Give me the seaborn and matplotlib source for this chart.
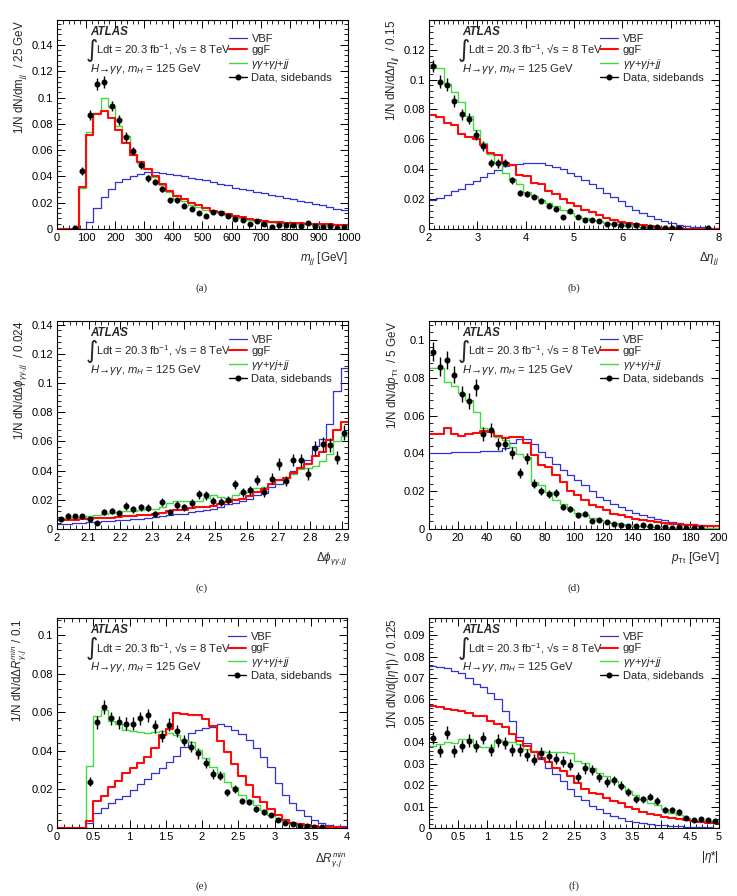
import numpy as np
import pandas as pd
import matplotlib
matplotlib.use("Agg")
import matplotlib.pyplot as plt
import seaborn as sns
from matplotlib.ticker import MultipleLocator, AutoMinorLocator, FormatStrFormatter
from matplotlib.lines import Line2D

nan = np.nan

# ---------------- (a) m_jj ----------------
a_range = (0.0, 1000.0)
a_vbf = [0, 0, 0, 0, 0.005, 0.0163, 0.0245, 0.0306, 0.0357, 0.0382,
         0.0403, 0.0415, 0.0433, 0.0436, 0.0428, 0.042, 0.041, 0.040, 0.039, 0.038,
         0.037, 0.0357, 0.0344, 0.0333, 0.0315, 0.0305, 0.0295, 0.0285, 0.0272, 0.026,
         0.025, 0.0238, 0.0226, 0.0215, 0.0204, 0.0193, 0.0182, 0.0168, 0.0155, 0.0142]
a_ggf = [0, 0, 0, 0.0318, 0.0713, 0.0874, 0.0897, 0.0848, 0.0754, 0.0652,
         0.056, 0.0512, 0.0459, 0.0403, 0.0339, 0.0288, 0.025, 0.023, 0.0196, 0.018,
         0.016, 0.0135, 0.013, 0.0117, 0.0099, 0.0094, 0.0076, 0.0069, 0.006, 0.0056,
         0.005, 0.0048, 0.0046, 0.0043, 0.004, 0.0038, 0.0036, 0.0038, 0.0033, 0.0033]
a_bkg = [0, 0, 0.0005, 0.031, 0.074, 0.088, 0.0996, 0.0925, 0.0785, 0.0708,
         0.0568, 0.0504, 0.0454, 0.0397, 0.0334, 0.028, 0.023, 0.021, 0.0186, 0.0166,
         0.0148, 0.013, 0.0122, 0.011, 0.0092, 0.0084, 0.007, 0.0064, 0.0056, 0.005,
         0.0046, 0.0043, 0.004, 0.0038, 0.0035, 0.0033, 0.003, 0.003, 0.0028, 0.0028]
a_data = [nan, nan, 0.0005, 0.0438, 0.0869, 0.110, 0.1116, 0.0937, 0.083, 0.070,
          0.0594, 0.049, 0.0387, 0.0357, 0.0306, 0.0217, 0.0219, 0.0178, 0.0155, 0.0122,
          0.0099, 0.013, 0.0122, 0.0097, 0.0076, 0.0069, 0.0036, 0.006, 0.0036, 0.0013,
          0.0033, 0.003, 0.0028, 0.002, 0.0046, 0.002, 0.0018, 0.0025, 0.001, 0.0015]
a_err = [nan, nan, 0.0005, 0.003, 0.004, 0.0045, 0.0045, 0.004, 0.0038, 0.0035,
         0.0032, 0.003, 0.0027, 0.0025, 0.0023, 0.002, 0.002, 0.0018, 0.0017, 0.0015,
         0.0013, 0.0015, 0.0014, 0.0013, 0.0012, 0.0011, 0.0008, 0.001, 0.0008, 0.0005,
         0.0008, 0.0007, 0.0007, 0.0006, 0.0009, 0.0006, 0.0006, 0.0007, 0.0004, 0.0005]

# ---------------- (b) delta eta_jj ----------------
b_range = (2.0, 8.0)
b_vbf = [0.0197, 0.0206, 0.023, 0.0253, 0.0269, 0.0298, 0.0318, 0.0347, 0.0372, 0.0394,
         0.0421, 0.0428, 0.0435, 0.0439, 0.0443, 0.0439, 0.0428, 0.0414, 0.0399, 0.0376,
         0.0354, 0.0329, 0.0298, 0.0271, 0.0242, 0.0215, 0.0186, 0.0157, 0.013, 0.0108,
         0.0085, 0.0067, 0.0052, 0.0038, 0.0029, 0.0022, 0.0016, 0.0011, 0.0007, 0.0004]
b_ggf = [0.0762, 0.075, 0.0708, 0.0697, 0.0634, 0.0618, 0.060, 0.0562, 0.0506, 0.0497,
         0.0443, 0.0428, 0.0361, 0.0354, 0.0309, 0.0298, 0.0253, 0.0237, 0.0202, 0.0175,
         0.0152, 0.013, 0.0114, 0.0096, 0.0074, 0.0063, 0.0047, 0.004, 0.0031, 0.0025,
         0.0018, 0.0013, 0.0009, 0.0007, 0.0004, 0.0003, 0.0002, 0.0001, 0.0001, 0.0001]
b_bkg = [0.110, 0.1075, 0.097, 0.0918, 0.0847, 0.0753, 0.0663, 0.0578, 0.050, 0.0443,
         0.0376, 0.0336, 0.0298, 0.0246, 0.0224, 0.0197, 0.0175, 0.0152, 0.0125, 0.0108,
         0.009, 0.0074, 0.0063, 0.0052, 0.004, 0.0034, 0.0027, 0.0022, 0.0018, 0.0013,
         0.0011, 0.0009, 0.0007, 0.0005, 0.0004, 0.0003, 0.0002, 0.0002, 0.0001, 0.0001]
b_data = [0.109, 0.0985, 0.0965, 0.0858, 0.0766, 0.0739, 0.0627, 0.0555, 0.0443, 0.0439,
          0.0443, 0.0327, 0.0242, 0.0235, 0.0217, 0.019, 0.0157, 0.0137, 0.0083, 0.0119,
          0.0081, 0.006, 0.0063, 0.0052, 0.0036, 0.0034, 0.0029, 0.0027, 0.0025, 0.0007,
          0.0013, 0.0011, 0.0009, 0.0004, 0.0004, nan, nan, nan, 0.0004, nan]
b_err = [0.004, 0.0045, 0.0045, 0.004, 0.0038, 0.0036, 0.0034, 0.0031, 0.0028, 0.0028,
         0.0028, 0.0024, 0.002, 0.002, 0.0019, 0.0018, 0.0016, 0.0015, 0.0012, 0.0014,
         0.0012, 0.001, 0.001, 0.0009, 0.0008, 0.0008, 0.0007, 0.0007, 0.0007, 0.0004,
         0.0005, 0.0005, 0.0004, 0.0003, 0.0003, nan, nan, nan, 0.0003, nan]

# ---------------- (c) delta phi_gg,jj ----------------
c_range = (2.0, 2.92)
c_vbf = [0.0034, 0.0036, 0.0041, 0.0043, 0.0046, 0.005, 0.0052, 0.0057, 0.0059, 0.0064,
         0.0066, 0.0071, 0.0075, 0.008, 0.0087, 0.0093, 0.0103, 0.0105, 0.0114, 0.0121,
         0.0132, 0.0139, 0.015, 0.0169, 0.0178, 0.0189, 0.0207, 0.023, 0.0246, 0.0287,
         0.031, 0.035, 0.040, 0.042, 0.047, 0.057, 0.062, 0.072, 0.0948, 0.110]
c_ggf = [0.0059, 0.0062, 0.0065, 0.0068, 0.007, 0.0073, 0.0076, 0.0078, 0.0082, 0.0086,
         0.009, 0.0094, 0.0098, 0.0104, 0.0112, 0.012, 0.0127, 0.0133, 0.0141, 0.0148,
         0.0153, 0.016, 0.0172, 0.0185, 0.0196, 0.0208, 0.0225, 0.0255, 0.0275, 0.031,
         0.0335, 0.0352, 0.0385, 0.042, 0.0445, 0.050, 0.0525, 0.061, 0.068, 0.0736]
c_bkg = [0.007, 0.0078, 0.008, 0.0085, 0.009, 0.0095, 0.0105, 0.011, 0.0115, 0.012,
         0.0125, 0.013, 0.0135, 0.0138, 0.015, 0.0175, 0.019, 0.0195, 0.0195, 0.019,
         0.021, 0.0235, 0.022, 0.021, 0.023, 0.025, 0.0255, 0.028, 0.029, 0.031,
         0.0335, 0.035, 0.038, 0.041, 0.042, 0.0435, 0.0465, 0.0515, 0.0605, 0.0635]
c_data = [0.0066, 0.0089, 0.0087, 0.0087, 0.0068, 0.0043, 0.0119, 0.0125, 0.0112, 0.0157,
          0.0135, 0.015, 0.0146, 0.0105, 0.0185, 0.0114, 0.0164, 0.015, 0.0178, 0.0237,
          0.023, 0.0192, 0.0185, 0.02, 0.0305, 0.0253, 0.0264, 0.0337, 0.0253, 0.0344,
          0.0447, 0.0328, 0.0474, 0.047, 0.0378, 0.0556, 0.0584, 0.0577, 0.0488, 0.0661]
c_err = [0.0015, 0.0018, 0.0018, 0.0018, 0.0016, 0.0013, 0.002, 0.0022, 0.002, 0.0025,
         0.0022, 0.0024, 0.0024, 0.002, 0.0026, 0.0021, 0.0025, 0.0024, 0.0027, 0.003,
         0.003, 0.0027, 0.0027, 0.0028, 0.0034, 0.0031, 0.0032, 0.0036, 0.0032, 0.0037,
         0.0042, 0.0036, 0.0043, 0.0043, 0.004, 0.0047, 0.0048, 0.0048, 0.0045, 0.0052]

# ---------------- (d) p_Tt ----------------
d_range = (0.0, 200.0)
d_vbf = [0.0403, 0.0403, 0.0403, 0.0405, 0.0405, 0.0407, 0.0408, 0.041, 0.041, 0.0412,
         0.0426, 0.0456, 0.0474, 0.0474, 0.0449, 0.0408, 0.038, 0.0346, 0.031, 0.0284,
         0.0258, 0.0231, 0.0201, 0.017, 0.0152, 0.0131, 0.0117, 0.0099, 0.0087, 0.0076,
         0.0064, 0.0055, 0.0046, 0.0039, 0.0032, 0.0028, 0.0025, 0.0021, 0.0018, 0.0016]
d_ggf = [0.0502, 0.0502, 0.0535, 0.0505, 0.0493, 0.050, 0.0509, 0.0518, 0.0514, 0.0493,
         0.0479, 0.0488, 0.0488, 0.0456, 0.039, 0.0338, 0.0329, 0.0284, 0.0249, 0.0201,
         0.0178, 0.0152, 0.0125, 0.0117, 0.0099, 0.0081, 0.0072, 0.0064, 0.0055, 0.0046,
         0.0041, 0.0035, 0.003, 0.0028, 0.0025, 0.0021, 0.0019, 0.0018, 0.0016, 0.0014]
d_bkg = [0.085, 0.085, 0.0779, 0.0756, 0.0717, 0.0682, 0.062, 0.0532, 0.052, 0.0488,
         0.047, 0.0435, 0.0399, 0.0382, 0.0249, 0.0231, 0.0196, 0.0155, 0.0134, 0.0108,
         0.0087, 0.0072, 0.0058, 0.0046, 0.0037, 0.0032, 0.0025, 0.0021, 0.0018, 0.0016,
         0.0012, 0.0011, 0.0009, 0.0007, 0.0005, 0.0004, 0.0004, 0.0004, 0.0004, 0.0004]
d_data = [0.0938, 0.0859, 0.0894, 0.0815, 0.0712, 0.0677, 0.0749, 0.0502, 0.0523, 0.0449,
          0.0449, 0.0403, 0.0297, 0.0373, 0.024, 0.02, 0.0187, 0.0191, 0.0117, 0.0108,
          0.0072, 0.0081, 0.0044, 0.0049, 0.0037, 0.0028, 0.0019, 0.0018, 0.0016, 0.0021,
          0.0014, 0.0011, 0.0009, 0.0007, 0.0009, 0.0007, 0.0005, 0.0007, nan, nan]
d_err = [0.005, 0.0048, 0.0048, 0.0045, 0.0042, 0.004, 0.0043, 0.0035, 0.0036, 0.0033,
         0.0033, 0.0031, 0.0027, 0.003, 0.0024, 0.0022, 0.0021, 0.0021, 0.0017, 0.0016,
         0.0013, 0.0014, 0.001, 0.0011, 0.0009, 0.0008, 0.0007, 0.0007, 0.0006, 0.0007,
         0.0006, 0.0005, 0.0005, 0.0004, 0.0005, 0.0004, 0.0004, 0.0004, nan, nan]

# ---------------- (e) delta R min ----------------
e_range = (0.0, 4.0)
e_vbf = [0, 0, 0, 0, 0.0028, 0.0076, 0.0102, 0.0128, 0.0149, 0.0168,
         0.0197, 0.0227, 0.0253, 0.0284, 0.031, 0.0341, 0.0375, 0.0422, 0.0491, 0.0509,
         0.0517, 0.0522, 0.054, 0.0529, 0.0509, 0.0486, 0.0457, 0.0413, 0.037, 0.0318,
         0.0235, 0.0171, 0.0128, 0.0093, 0.0062, 0.0042, 0.0028, 0.0017, 0.0012, 0.0009]
e_ggf = [0, 0, 0, 0, 0.0035, 0.014, 0.0166, 0.0215, 0.0244, 0.0287,
         0.031, 0.0336, 0.037, 0.0413, 0.0483, 0.0512, 0.0595, 0.0592, 0.0586, 0.0586,
         0.0564, 0.0526, 0.0453, 0.0396, 0.0332, 0.027, 0.0223, 0.0163, 0.0133, 0.0097,
         0.0067, 0.0042, 0.0028, 0.0019, 0.0014, 0.0009, 0.0007, 0.0005, 0.0003, 0.0002]
e_bkg = [0, 0, 0, 0, 0.0322, 0.0581, 0.0609, 0.0552, 0.054, 0.0509,
         0.0503, 0.0495, 0.0491, 0.0495, 0.0505, 0.0491, 0.0483, 0.0457, 0.0443, 0.0405,
         0.0362, 0.0315, 0.0284, 0.024, 0.0215, 0.0171, 0.0145, 0.0119, 0.0093, 0.0067,
         0.005, 0.0033, 0.0021, 0.0014, 0.0009, 0.0005, 0.0003, 0.0002, 0.0002, 0.0002]
e_data = [nan, nan, nan, nan, 0.024, 0.0548, 0.0626, 0.0569, 0.0547, 0.054,
          0.054, 0.0569, 0.0583, 0.0526, 0.0477, 0.0535, 0.0503, 0.0453, 0.0422, 0.0388,
          0.0339, 0.028, 0.027, 0.0185, 0.0201, 0.014, 0.0135, 0.0099, 0.0081, 0.0067,
          0.004, 0.0028, 0.0021, 0.001, 0.001, 0.0007, 0.0007, nan, nan, nan]
e_err = [nan, nan, nan, nan, 0.0022, 0.0034, 0.0036, 0.0034, 0.0033, 0.0033,
         0.0033, 0.0034, 0.0035, 0.0033, 0.0031, 0.0033, 0.0032, 0.003, 0.0029, 0.0028,
         0.0026, 0.0024, 0.0023, 0.0019, 0.002, 0.0017, 0.0016, 0.0014, 0.0013, 0.0012,
         0.0009, 0.0008, 0.0006, 0.0004, 0.0004, 0.0004, 0.0004, nan, nan, nan]

# ---------------- (f) |eta*| ----------------
f_range = (0.0, 5.0)
f_vbf = [0.0758, 0.0753, 0.0749, 0.0735, 0.0724, 0.0699, 0.0672, 0.0657, 0.0629, 0.0602,
         0.0548, 0.0501, 0.0423, 0.0396, 0.0353, 0.0321, 0.0282, 0.0251, 0.022, 0.0181,
         0.015, 0.0129, 0.0103, 0.0087, 0.0072, 0.0056, 0.0045, 0.0034, 0.003, 0.0025,
         0.002, 0.0016, 0.0012, 0.0009, 0.0008, 0.0006, 0.0005, 0.0003, 0.0003, 0.0002]
f_ggf = [0.0571, 0.0563, 0.0555, 0.0552, 0.0548, 0.0537, 0.0521, 0.0521, 0.0501, 0.0485,
         0.047, 0.0438, 0.0407, 0.0384, 0.0356, 0.0329, 0.0306, 0.0282, 0.0267, 0.0243,
         0.0212, 0.0181, 0.0165, 0.0161, 0.0142, 0.0126, 0.0115, 0.01, 0.0087, 0.0076,
         0.0067, 0.0059, 0.0053, 0.0047, 0.0041, 0.0036, 0.0033, 0.0028, 0.0025, 0.0022]
f_bkg = [0.0384, 0.0392, 0.04, 0.0395, 0.0415, 0.0415, 0.0384, 0.0376, 0.0376, 0.0412,
         0.04, 0.0402, 0.0392, 0.0368, 0.036, 0.036, 0.0356, 0.0356, 0.0353, 0.035,
         0.0314, 0.0303, 0.0282, 0.0259, 0.0243, 0.022, 0.0197, 0.0173, 0.0154, 0.0137,
         0.0119, 0.0106, 0.009, 0.0072, 0.0059, 0.0048, 0.0037, 0.0033, 0.0031, 0.003]
f_data = [0.042, 0.036, 0.0445, 0.036, 0.0384, 0.0407, 0.0384, 0.042, 0.0365, 0.0407,
          0.0396, 0.0365, 0.0365, 0.034, 0.0318, 0.035, 0.0337, 0.0324, 0.0309, 0.0295,
          0.024, 0.0278, 0.0271, 0.0236, 0.0215, 0.0223, 0.0197, 0.0168, 0.0134, 0.0134,
          0.0147, 0.0126, 0.0083, 0.0083, 0.0075, 0.0048, 0.0037, 0.0041, 0.0037, 0.0033]
f_err = [0.003, 0.0028, 0.003, 0.0028, 0.0029, 0.003, 0.0029, 0.003, 0.0028, 0.003,
         0.0029, 0.0028, 0.0028, 0.0027, 0.0026, 0.0027, 0.0027, 0.0026, 0.0026, 0.0025,
         0.0023, 0.0024, 0.0024, 0.0023, 0.0022, 0.0022, 0.0021, 0.0019, 0.0017, 0.0017,
         0.0018, 0.0017, 0.0013, 0.0013, 0.0012, 0.001, 0.0009, 0.0009, 0.0009, 0.0008]

legend_labels = ["VBF", "ggF", r"$\gamma\gamma$+$\gamma j$+$jj$", "Data, sidebands"]
captions = ["(a)", "(b)", "(c)", "(d)", "(e)", "(f)"]

# ---------------- style ----------------
sns.set_style("ticks")
plt.rcParams["font.family"] = ["Liberation Sans", "DejaVu Sans"]
plt.rcParams["mathtext.fontset"] = "custom"
plt.rcParams["mathtext.rm"] = "Liberation Sans"
plt.rcParams["mathtext.it"] = "Liberation Sans:italic"
plt.rcParams["mathtext.bf"] = "Liberation Sans:bold"
plt.rcParams["mathtext.fallback"] = "stixsans"
plt.rcParams["axes.linewidth"] = 0.8
plt.rcParams["axes.edgecolor"] = "black"

BLUE = "#3232d2"
RED = "#ff0a0a"
GREEN = "#3fdc3f"
FS = 8.0      # tick labels / legend
FSL = 8.4     # axis titles
FSA = 8.1     # annotations

fig = plt.figure(figsize=(7.37, 8.96), dpi=100)
W, H = 737.0, 896.0


def make_ax(left, right, top, bottom):
    return fig.add_axes([left / W, 1 - bottom / H, (right - left) / W, (bottom - top) / H])


panels = [
    dict(box=(57, 348, 20, 229), rng=a_range, v=a_vbf, g=a_ggf, b=a_bkg, d=a_data, e=a_err,
         ylim=0.159, xmaj=100, xmin_n=5, ymaj=0.02,
         xlabel=r"$m_{jj}$ [GeV]", ylabel=r"1/N dN/dm$_{jj}$  / 25 GeV", cap=(202, 288)),
    dict(box=(429, 719, 20, 229), rng=b_range, v=b_vbf, g=b_ggf, b=b_bkg, d=b_data, e=b_err,
         ylim=0.1398, xmaj=1, xmin_n=10, ymaj=0.02,
         xlabel=r"$\Delta\eta_{jj}$", ylabel=r"1/N dN/d$\Delta\eta_{jj}$  / 0.15", cap=(574, 288)),
    dict(box=(57, 348, 321, 529), rng=c_range, v=c_vbf, g=c_ggf, b=c_bkg, d=c_data, e=c_err,
         ylim=0.1425, xmaj=0.1, xmin_n=5, ymaj=0.02,
         xlabel=r"$\Delta\phi_{\gamma\gamma,jj}$", ylabel=r"1/N dN/d$\Delta\phi_{\gamma\gamma,jj}$  / 0.024", cap=(202, 588)),
    dict(box=(429, 719, 321, 529), rng=d_range, v=d_vbf, g=d_ggf, b=d_bkg, d=d_data, e=d_err,
         ylim=0.110, xmaj=20, xmin_n=5, ymaj=0.02,
         xlabel=r"$p_{\mathrm{Tt}}$ [GeV]", ylabel=r"1/N dN/d$p_{\mathrm{Tt}}$  / 5 GeV", cap=(574, 588)),
    dict(box=(57, 347, 618, 828), rng=e_range, v=e_vbf, g=e_ggf, b=e_bkg, d=e_data, e=e_err,
         ylim=0.1088, xmaj=0.5, xmin_n=5, ymaj=0.02,
         xlabel=r"$\Delta R^{min}_{\gamma,j}$", ylabel=r"1/N dN/d$\Delta R^{min}_{\gamma,j}$ / 0.1", cap=(202, 886)),
    dict(box=(429, 719, 618, 828), rng=f_range, v=f_vbf, g=f_ggf, b=f_bkg, d=f_data, e=f_err,
         ylim=0.098, xmaj=0.5, xmin_n=5, ymaj=0.01,
         xlabel=r"|$\eta$*|", ylabel=r"1/N dN/d(|$\eta$*|) / 0.125", cap=(574, 886)),
]

for p, cap in zip(panels, captions):
    ax = make_ax(*p["box"])
    lo, hi = p["rng"]
    nb = len(p["v"])
    width = (hi - lo) / nb
    centers = lo + width * (np.arange(nb) + 0.5)
    df = pd.DataFrame({"x": centers, "VBF": p["v"], "ggF": p["g"], "bkg": p["b"]})
    for col, colour, lw in [("VBF", BLUE, 0.9), ("bkg", GREEN, 1.0), ("ggF", RED, 1.5)]:
        sns.histplot(data=df, x="x", weights=col, bins=nb, binrange=(lo, hi),
                     element="step", fill=False, color=colour, linewidth=lw, ax=ax)
    ax.errorbar(centers, p["d"], yerr=p["e"], fmt="o", color="black", ms=3.3,
                elinewidth=1.0, capsize=0, zorder=5)

    ax.set_xlim(lo, hi)
    ax.set_ylim(0, p["ylim"])
    ax.xaxis.set_major_locator(MultipleLocator(p["xmaj"]))
    ax.xaxis.set_minor_locator(AutoMinorLocator(p["xmin_n"]))
    ax.yaxis.set_major_locator(MultipleLocator(p["ymaj"]))
    ax.yaxis.set_minor_locator(AutoMinorLocator(5))
    ax.xaxis.set_major_formatter(FormatStrFormatter("%g"))
    ax.yaxis.set_major_formatter(FormatStrFormatter("%g"))
    ax.tick_params(which="both", direction="in", top=True, right=True, labelsize=FS,
                   colors="black", pad=3)
    ax.tick_params(which="major", length=6, width=0.7)
    ax.tick_params(which="minor", length=3, width=0.6)

    ax.set_xlabel(p["xlabel"], fontsize=FSL, loc="right")
    ax.xaxis.set_label_coords(1.0, -0.1)
    ax.set_ylabel(p["ylabel"], fontsize=FSL, loc="top")
    ax.yaxis.set_label_coords(-0.097, 1.0)

    # annotations
    ax.text(0.113, 0.943, "ATLAS", transform=ax.transAxes, fontsize=FSA + 0.3,
            fontweight="bold", fontstyle="italic", va="center", ha="left")
    ax.text(0.098, 0.858, "\u222b", transform=ax.transAxes, fontsize=17,
            family="DejaVu Sans", va="center", ha="left")
    ax.text(0.134, 0.856, "Ldt = 20.3 fb$^{\\mathregular{-1}}$, \u221as = 8 TeV",
            transform=ax.transAxes, fontsize=FSA, va="center", ha="left")
    ax.text(0.113, 0.766, r"$H\!\rightarrow\!\gamma\gamma$, $m_{H}$ = 125 GeV",
            transform=ax.transAxes, fontsize=FSA, va="center", ha="left")

    handles = [Line2D([], [], color=BLUE, lw=0.9),
               Line2D([], [], color=RED, lw=1.5),
               Line2D([], [], color=GREEN, lw=1.0),
               Line2D([], [], color="black", lw=1.0, marker="o", ms=3.3)]
    ax.legend(handles, legend_labels, loc="upper left", bbox_to_anchor=(0.59, 0.935),
              frameon=False, fontsize=FS, handlelength=1.65, handletextpad=0.4,
              labelspacing=0.16, borderpad=0, borderaxespad=0)

    fig.text(p["cap"][0] / W, 1 - p["cap"][1] / H, cap, family="Liberation Serif",
             fontsize=8, ha="center", va="center")

fig.savefig("out.png", dpi=100)
